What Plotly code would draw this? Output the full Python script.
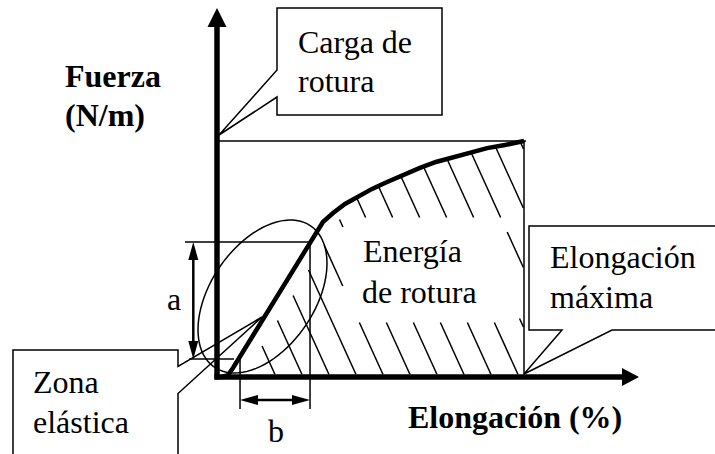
import numpy as np
import plotly.graph_objects as go

W, H = 715, 454

# ---------------- data (elongation %, force % of breaking load) ----------------
elongation = [0, 1.6, 3.6, 5.2, 34.5, 37.8, 41.7, 45.6, 50.5, 55.4, 60.6, 66.1, 71.3, 76.9, 82.4, 88.0, 93.8, 100.0]
force      = [0, 0.0, 0.8, 3.8, 65.7, 69.5, 73.3, 76.3, 79.7, 82.6, 85.6, 88.6, 91.1, 93.2, 95.3, 97.0, 98.3, 100.0]
max_force = 100.0          # carga de rotura
max_elong = 100.0          # elongación máxima
elastic_elong = [7.5, 30.3]   # dimension "b"
elastic_force = [7.6, 57.2]   # dimension "a"

# ---------------- layout mapping (pixel <-> data) ----------------
X0, XS = 217.0, 3.07
Y0, YS = 377.0, 2.36
def E(px): return (px - X0) / XS
def F(py): return (Y0 - py) / YS
def PX(e): return X0 + XS * e
def PY(f): return Y0 - YS * f

def path(pts, close=True):
    s = "M " + " L ".join(f"{E(x):.3f},{F(y):.3f}" for x, y in pts)
    return s + (" Z" if close else "")

shapes = []
def line(x1, y1, x2, y2, w=1.5, layer="above"):
    shapes.append(dict(type="line", xref="x", yref="y", x0=E(x1), y0=F(y1), x1=E(x2), y1=F(y2),
                       line=dict(color="black", width=w), layer=layer))

def poly(pts, fill="black", w=0, layer="above", close=True):
    shapes.append(dict(type="path", xref="x", yref="y", path=path(pts, close), fillcolor=fill,
                       line=dict(color="black", width=w), layer=layer))

def head(tx, ty, dx, dy, length, half):
    n = np.hypot(dx, dy); ux, uy = dx / n, dy / n
    bx, by = tx - ux * length, ty - uy * length
    px_, py_ = -uy, ux
    poly([(tx, ty), (bx + px_ * half, by + py_ * half), (bx - px_ * half, by - py_ * half)])

# ---------------- callouts (white boxes, below everything) ----------------
poly([(277, 8), (442, 8), (442, 115), (277, 115), (277, 97), (219, 135), (277, 70)],
     fill="white", w=1.5, layer="below")
poly([(13, 350), (178, 350), (178, 366.5), (262, 317), (178, 393.5), (178, 470), (13, 470)],
     fill="white", w=1.5, layer="below")
poly([(529, 226), (730, 226), (730, 330), (612, 330), (524, 374), (562, 330), (529, 330)],
     fill="white", w=1.5, layer="below")

# ---------------- reference lines ----------------
line(PX(0), PY(max_force), PX(max_elong) + 2, PY(max_force))
line(PX(max_elong), PY(max_force), PX(max_elong), PY(0))

# dimensions a / b
xa = 193.3
yb = 400
line(185, PY(elastic_force[1]), PX(elastic_elong[1]), PY(elastic_force[1]))
line(189, PY(elastic_force[0]), PX(elastic_elong[0]) - 6, PY(elastic_force[0]))
line(PX(elastic_elong[1]), PY(elastic_force[1]), PX(elastic_elong[1]), 409)
line(PX(elastic_elong[0]), PY(elastic_force[0]), PX(elastic_elong[0]), 409)
line(xa, PY(elastic_force[1]) + 12, xa, PY(elastic_force[0]) - 12, w=2.5)
head(xa, PY(elastic_force[1]), 0, -1, 18, 5)
head(xa, PY(elastic_force[0]), 0, 1, 18, 5)
line(PX(elastic_elong[0]) + 12, yb, PX(elastic_elong[1]) - 12, yb, w=2.5)
head(PX(elastic_elong[0]), yb, -1, 0, 18, 5)
head(PX(elastic_elong[1]), yb, 1, 0, 18, 5)

# ---------------- hatching of the energy area ----------------
cx = np.array([PX(e) for e in elongation]); cy = np.array([PY(f) for f in force])
x3, y3, x4, y4 = cx[3], cy[3], cx[4], cy[4]
slope_steep = (y4 - y3) / (x4 - x3)
def upper(x):
    cyi = np.interp(x, cx, cy)
    st = y3 + (x - 15 - x3) * slope_steep
    return np.maximum(cyi, st)
def masked(x, y):
    r1 = (x >= 343) & (x <= 507) & (y >= 218) & (y <= 322)
    r2 = (x >= 343) & (x <= 525) & (y >= 278) & (y <= 318)
    return r1 | r2
s = 2.2
ybot = 374.5
xright = PX(max_elong) - 0.5
for k in range(15):
    xb = 275 + 27 * k
    ys = np.arange(ybot, 135, -0.5)
    xs = xb - (ybot - ys) / s
    ok = (xs <= xright) & (ys >= upper(xs)) & (~masked(xs, ys))
    i = 0
    n = len(ys)
    while i < n:
        if ok[i]:
            j = i
            while j + 1 < n and ok[j + 1]:
                j += 1
            if j - i >= 3:
                line(xs[i], ys[i], xs[j], ys[j], w=1.5)
            i = j + 1
        else:
            i += 1

# ---------------- ellipse around the elastic zone ----------------
ecx, ecy, A, B, th = 262.5, 296.5, 85.5, 52.0, np.radians(55.8)
t = np.linspace(0, 2 * np.pi, 90)
ex = ecx + A * np.cos(t) * np.cos(th) - B * np.sin(t) * np.sin(th)
ey = ecy - (A * np.cos(t) * np.sin(th) + B * np.sin(t) * np.cos(th))
poly(list(zip(ex, ey)), fill="rgba(0,0,0,0)", w=1.5)

# ---------------- axes ----------------
line(PX(0), PY(0) + 2.5, PX(0), 26, w=5.5)
head(PX(0), 8, 0, -1, 19, 9.5)
line(PX(0) - 2.5, PY(0), 623, PY(0), w=5.5)
head(639, PY(0), 1, 0, 17, 9)

# ---------------- curve ----------------
fig = go.Figure()
fig.add_trace(go.Scatter(x=elongation, y=force, mode="lines",
                         line=dict(color="black", width=4.5), hoverinfo="skip"))

# ---------------- texts ----------------
FONT = "Liberation Serif"
def txt(s_, left, baseline, size=32, anchor="left"):
    return dict(text=s_, x=E(left), y=F(baseline - 0.34 * size), xref="x", yref="y",
                xanchor=anchor, yanchor="middle", showarrow=False, borderpad=0,
                font=dict(family=FONT, size=size, color="black"))

annotations = [
    txt("<b>Fuerza</b>", 64, 87),
    txt("<b>(N/m)</b>", 64, 126),
    txt("<b>Elongación (%)</b>", 407, 428),
    txt("Carga de", 297, 53),
    txt("rotura", 297, 92),
    txt("Energía", 362, 262),
    txt("de rotura", 361, 303),
    txt("Elongación", 549, 268),
    txt("máxima", 549, 308),
    txt("Zona", 32, 393),
    txt("elástica", 32, 433),
    txt("a", 174, 310, anchor="center"),
    txt("b", 276, 442, anchor="center"),
]

fig.update_layout(
    width=W, height=H, margin=dict(l=0, r=0, t=0, b=0),
    paper_bgcolor="white", plot_bgcolor="white", showlegend=False,
    xaxis=dict(range=[E(0), E(W)], visible=False, fixedrange=True),
    yaxis=dict(range=[F(H), F(0)], visible=False, fixedrange=True),
    shapes=shapes, annotations=annotations,
)
fig.write_html("out.html", config={"displayModeBar": False},
               post_script="document.body.style.margin='0px';document.body.style.overflow='hidden';")
